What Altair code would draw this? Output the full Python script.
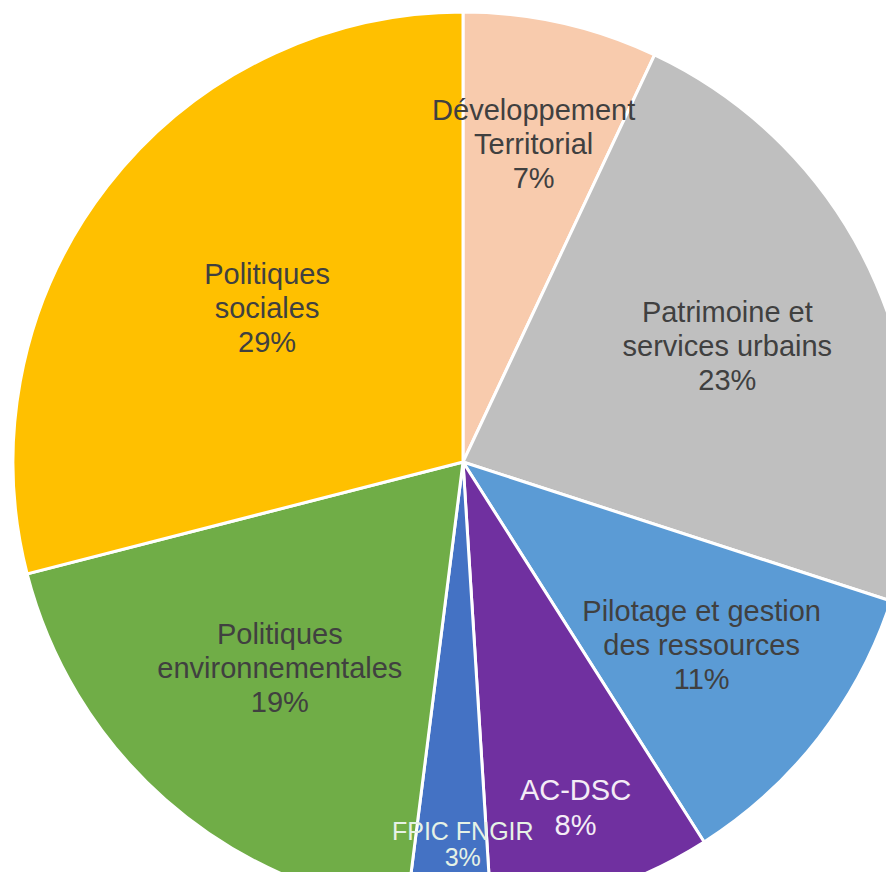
import altair as alt
import pandas as pd

categories = [
    "Développement Territorial",
    "Patrimoine et services urbains",
    "Pilotage et gestion des ressources",
    "AC-DSC",
    "FPIC FNGIR",
    "Politiques environnementales",
    "Politiques sociales",
]
shares = [7, 23, 11, 8, 3, 19, 29]
label_lines = [
    ["Développement", "Territorial"],
    ["Patrimoine et", "services urbains"],
    ["Pilotage et gestion", "des ressources"],
    ["AC-DSC"],
    ["FPIC FNGIR"],
    ["Politiques", "environnementales"],
    ["Politiques", "sociales"],
]
colors = ["#F8CBAD", "#BFBFBF", "#5B9BD5", "#7030A0", "#4472C4", "#70AD47", "#FFC000"]

# label styling (distance from centre, colour)
label_radius = [324, 288, 302, 364, 389, 277, 248]
label_color = ["#404040", "#404040", "#404040", "#F4ECF6", "#E6F2E6", "#404040", "#404040"]

df = pd.DataFrame({
    "cat": categories,
    "value": shares,
    "order": list(range(len(categories))),
    "label": [lines + [f"{v}%"] for lines, v in zip(label_lines, shares)],
    "nl": [len(lines) + 1 for lines in label_lines],
    "lr": label_radius,
    "fc": label_color,
})

CX, CY, R = 455, 454, 450

pie = alt.Chart(df).mark_arc(outerRadius=R, stroke="white", strokeWidth=3).encode(
    theta=alt.Theta("value:Q", stack=True),
    order=alt.Order("order:Q"),
    x=alt.value(CX),
    y=alt.value(CY),
    color=alt.Color("cat:N", scale=alt.Scale(domain=categories, range=colors), legend=None),
)

label_base = alt.Chart(df).transform_window(
    cum="sum(value)", sort=[alt.SortField("order")], frame=[None, 0]
).transform_calculate(
    mid="datum.cum - datum.value / 2"
).encode(
    theta=alt.Theta("mid:Q", stack=None),
    x=alt.value(CX),
    y=alt.value(CY),
    radius=alt.Radius("lr:Q", scale=None),
    text="label:N",
    color=alt.Color("fc:N", scale=None),
)

labels3 = label_base.transform_filter(alt.datum.nl == 3).mark_text(
    font="Liberation Sans", fontSize=29, lineHeight=34, align="center", baseline="middle", dy=-35
)
labels_ac = label_base.transform_filter(alt.datum.cat == "AC-DSC").mark_text(
    font="Liberation Sans", fontSize=29, lineHeight=35, align="center", baseline="middle", dy=-17
)
labels_fp = label_base.transform_filter(alt.datum.cat == "FPIC FNGIR").mark_text(
    font="Liberation Sans", fontSize=25, lineHeight=26, align="center", baseline="middle", dy=-19, dx=12
)

chart = alt.layer(pie, labels3, labels_ac, labels_fp).properties(
    width=878, height=864, padding=0, autosize=alt.AutoSizeParams(type="none")
).configure_view(stroke=None)

chart.save("out.html", embed_options={"renderer": "svg", "actions": False})
